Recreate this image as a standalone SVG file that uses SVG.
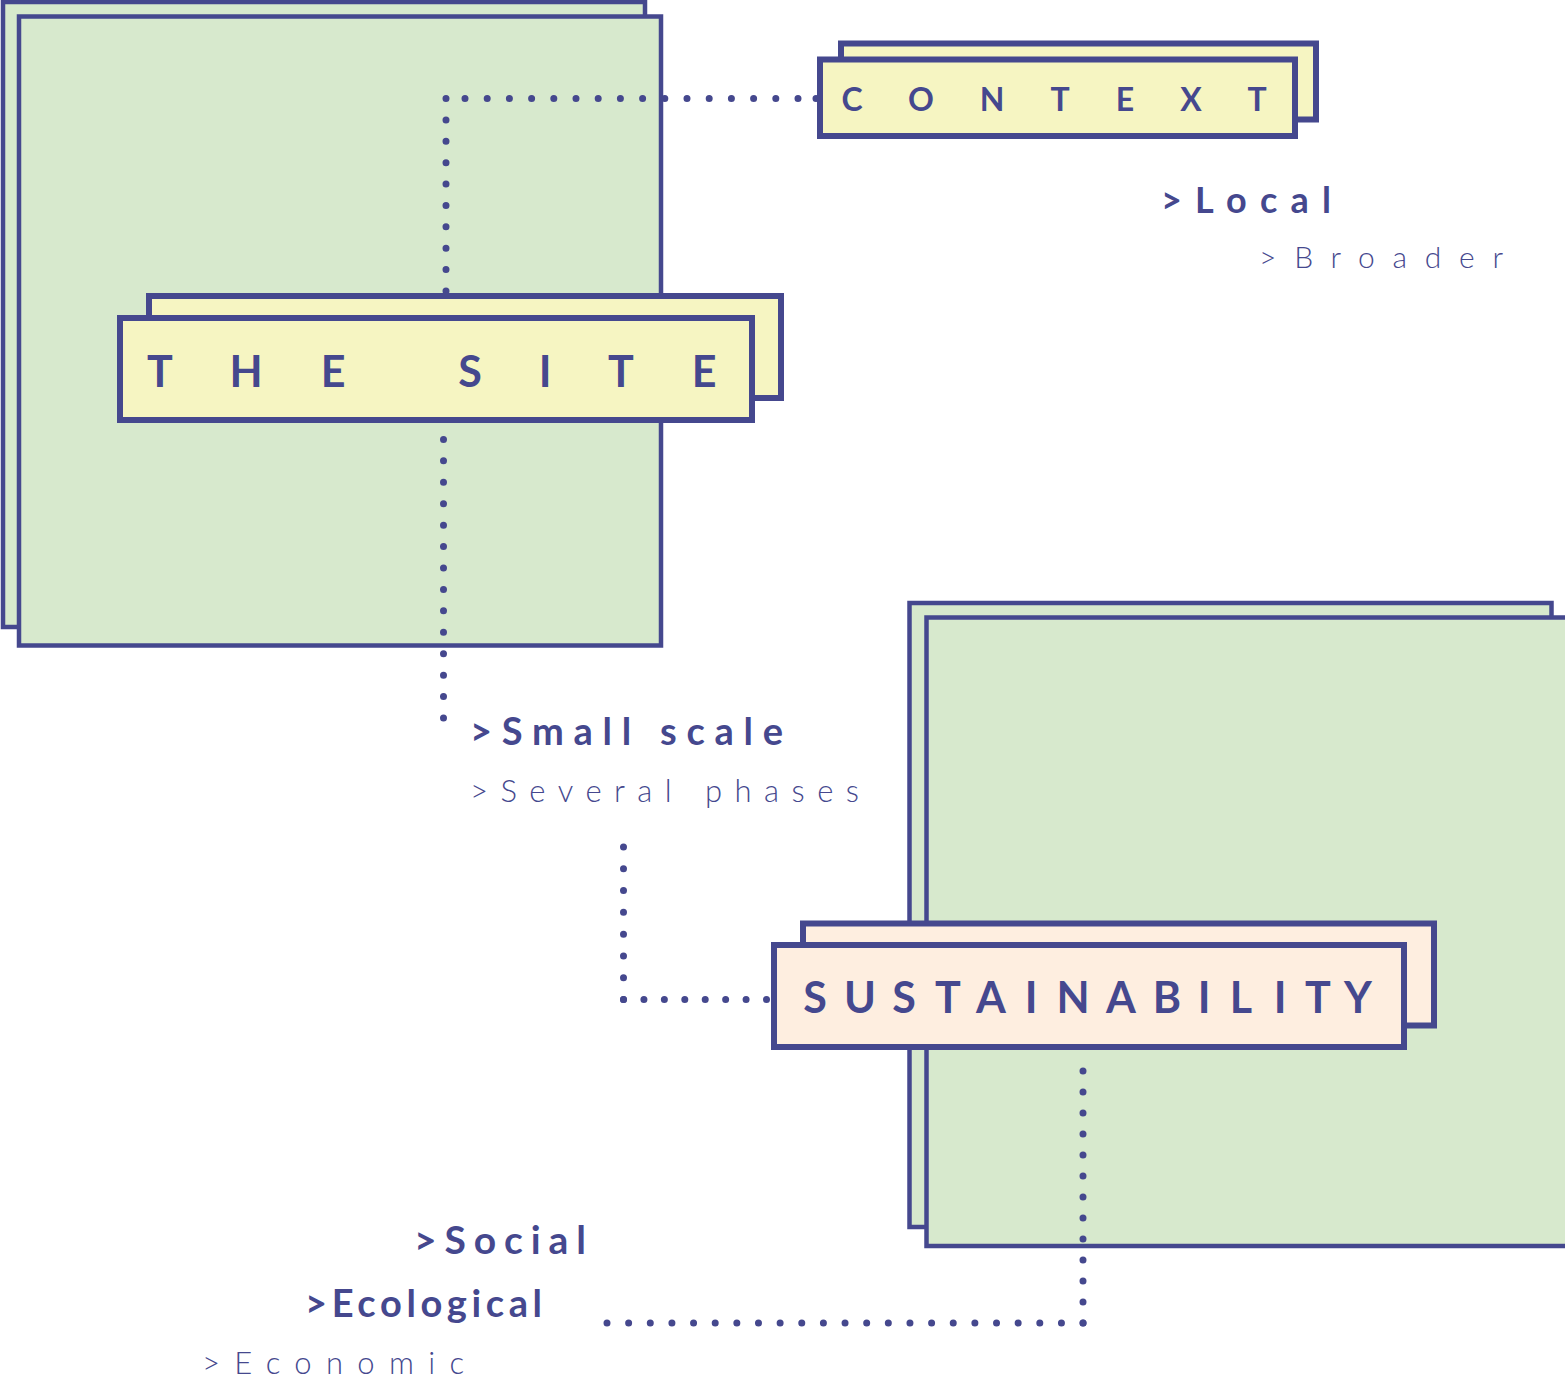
<svg xmlns="http://www.w3.org/2000/svg" width="1565" height="1379" viewBox="0 0 1565 1379">
<style>
.sq{fill:#d7e9cd;stroke:#45488e;stroke-width:4.5}
.lbl{stroke:#45488e;stroke-width:6}
.yel{fill:#f6f5c2}
.pch{fill:#feeee0}
.dot{fill:none;stroke:#45488e;stroke-width:7;stroke-linecap:round}
.t{font-family:Lato,"Noto Sans","Liberation Sans",sans-serif;fill:#45488e}
.box{font-weight:700;text-anchor:middle}
.b{font-weight:700}
.l{font-weight:300}
</style>
<rect width="1565" height="1379" fill="#ffffff"/>
<g id="site-square">
<rect class="sq" x="3" y="2" width="642" height="625"/>
<rect class="sq" x="19" y="16.5" width="642" height="629"/>
</g>
<g id="sustainability-square">
<rect class="sq" x="909.5" y="603" width="642" height="624"/>
<rect class="sq" x="926.5" y="617.5" width="645" height="628.5"/>
</g>
<g id="connectors">
<path class="dot" d="M465 98.5H799M816 98.5h0.1" stroke-dasharray="0 22.2"/>
<path class="dot" d="M446 98.5V292" stroke-dasharray="0 21.39"/>
<path class="dot" d="M443.5 418V719" stroke-dasharray="0 21.43"/>
<path class="dot" d="M623.5 847V1000" stroke-dasharray="0 21.79"/>
<path class="dot" d="M623.5 999.5H767" stroke-dasharray="0 20.43"/>
<path class="dot" d="M1083 1071V1324" stroke-dasharray="0 21"/>
<path class="dot" d="M607 1323H1084" stroke-dasharray="0 21.64"/>
</g>
<g id="context">
<rect class="lbl yel" x="841" y="43.5" width="475" height="76"/>
<rect class="lbl yel" x="820" y="59.5" width="475" height="76.5"/>
<text class="t box" font-size="32" x="852 921 992 1060 1125 1191 1257" y="111">CONTEXT</text>
</g>
<g id="the-site">
<rect class="lbl yel" x="149" y="296" width="632" height="102"/>
<rect class="lbl yel" x="120" y="318" width="632" height="102"/>
<text class="t box" font-size="43" x="160 246 333 400 470 545 621 704" y="387">THE SITE</text>
</g>
<g id="sustainability">
<rect class="lbl pch" x="803" y="923.5" width="631" height="102"/>
<rect class="lbl pch" x="774" y="945" width="630" height="102"/>
<text class="t box" font-size="43" x="815 860 904 948 991 1031 1073 1121 1167 1204 1241 1280 1318 1358" y="1013">SUSTAINABILITY</text>
</g>
<g id="context-labels">
<text class="t b" font-size="36" x="1161" y="213" textLength="170" lengthAdjust="spacing">&gt;Local</text>
<text class="t l" font-size="30" x="1259" y="268" textLength="244" lengthAdjust="spacing">&gt;Broader</text>
</g>
<g id="site-labels">
<text class="t b" font-size="38" x="470" y="745" textLength="313" lengthAdjust="spacing">&gt;Small scale</text>
<text class="t l" font-size="31" x="470" y="802" textLength="389" lengthAdjust="spacing">&gt;Several phases</text>
</g>
<g id="sustainability-labels">
<text class="t b" font-size="39" x="414" y="1254" textLength="172" lengthAdjust="spacing">&gt;Social</text>
<text class="t b" font-size="38" x="305" y="1317" textLength="237" lengthAdjust="spacing">&gt;Ecological</text>
<text class="t l" font-size="31" x="202" y="1374" textLength="262" lengthAdjust="spacing">&gt;Economic</text>
</g>
</svg>
